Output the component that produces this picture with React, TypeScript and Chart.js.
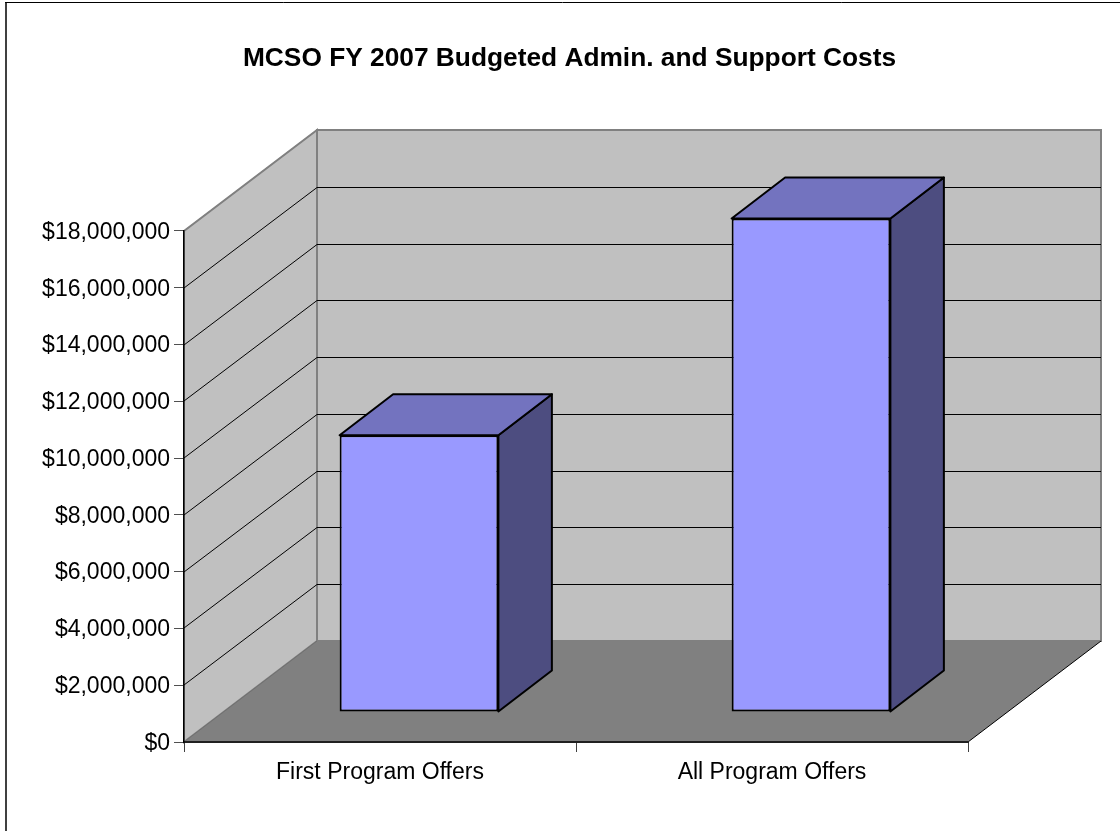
import React, { useEffect, useRef } from "react";
import { Chart, registerables } from "chart.js";

Chart.register(...registerables);

const categories = ["First Program Offers", "All Program Offers"];
const budgetValues = [9750000, 17380000];
const TITLE = "MCSO FY 2007 Budgeted Admin. and Support Costs";
const FONT = "'Liberation Sans', Arial, sans-serif";

// projection of the 3D box
const DEPTH_X = 133;
const DEPTH_Y = 101;
const BAR_OFFSET_X = 39;
const BAR_OFFSET_Y = 30;
const BAR_DEPTH_X = 53.5;
const BAR_DEPTH_Y = 41;

const money = (v: number) => "$" + Number(v).toLocaleString("en-US");

function poly(ctx: CanvasRenderingContext2D, pts: number[][]) {
  ctx.beginPath();
  pts.forEach(([x, y], i) => (i ? ctx.lineTo(x, y) : ctx.moveTo(x, y)));
  ctx.closePath();
}

const box3d = {
  id: "box3d",
  beforeDraw(chart: any) {
    const { ctx, chartArea: a, scales } = chart;
    const y = scales.y;
    const L = a.left, R = a.right, T = a.top, B = a.bottom;
    const dx = DEPTH_X, dy = DEPTH_Y;
    ctx.save();
    // outer frame
    ctx.strokeStyle = "#404040";
    ctx.lineWidth = 2;
    ctx.beginPath(); ctx.moveTo(6, 831); ctx.lineTo(6, 2); ctx.stroke();
    ctx.strokeStyle = "#000000";
    ctx.lineWidth = 1;
    ctx.beginPath(); ctx.moveTo(5, 2.5); ctx.lineTo(1120, 2.5); ctx.stroke();
    // walls
    ctx.fillStyle = "#c0c0c0";
    ctx.strokeStyle = "#808080";
    ctx.lineWidth = 2;
    poly(ctx, [[L + dx, B - dy], [R + dx, B - dy], [R + dx, T - dy], [L + dx, T - dy]]);
    ctx.fill(); ctx.stroke();
    poly(ctx, [[L, B], [L + dx, B - dy], [L + dx, T - dy], [L, T]]);
    ctx.fill(); ctx.stroke();
    // grid lines on the walls
    ctx.strokeStyle = "#000000";
    ctx.lineWidth = 1;
    y.ticks.forEach((t: any) => {
      if (t.value === 0 || t.value === y.max) return;
      const py = Math.round(y.getPixelForValue(t.value));
      ctx.beginPath();
      ctx.moveTo(L, py);
      ctx.lineTo(L + dx, py - dy + 0.5);
      ctx.lineTo(R + dx, py - dy + 0.5);
      ctx.stroke();
    });
    const topTick = y.getPixelForValue(y.max);
    ctx.beginPath();
    ctx.strokeStyle = "#808080";
    ctx.moveTo(L, topTick); ctx.lineTo(L + dx, topTick - dy);
    ctx.stroke();
    // floor
    ctx.fillStyle = "#808080";
    poly(ctx, [[L, B], [L + dx, B - dy], [R + dx, B - dy], [R, B]]);
    ctx.fill();
    ctx.strokeStyle = "#707070";
    ctx.beginPath(); ctx.moveTo(L, B); ctx.lineTo(L + dx, B - dy); ctx.stroke();
    ctx.strokeStyle = "#000000";
    ctx.beginPath(); ctx.moveTo(R, B); ctx.lineTo(R + dx, B - dy); ctx.stroke();
    ctx.restore();
  },
  beforeDatasetsDraw(chart: any) {
    const { ctx } = chart;
    ctx.save();
    ctx.translate(BAR_OFFSET_X, -BAR_OFFSET_Y);
    // side and top faces of every bar
    chart.getDatasetMeta(0).data.forEach((bar: any) => {
      const l = bar.x - bar.width / 2, r = bar.x + bar.width / 2;
      const t = bar.y, b = bar.base;
      const dx = BAR_DEPTH_X, dy = BAR_DEPTH_Y;
      ctx.strokeStyle = "#000000";
      ctx.lineWidth = 2;
      ctx.lineJoin = "round";
      ctx.fillStyle = "#4d4d80";
      poly(ctx, [[r, t], [r + dx, t - dy], [r + dx, b - dy], [r, b]]);
      ctx.fill(); ctx.stroke();
      ctx.fillStyle = "#7373bf";
      poly(ctx, [[l, t], [l + dx, t - dy], [r + dx, t - dy], [r, t]]);
      ctx.fill(); ctx.stroke();
    });
  },
  afterDatasetsDraw(chart: any) {
    chart.ctx.restore();
  },
};

export default function App() {
  const ref = useRef<HTMLCanvasElement>(null);
  useEffect(() => {
    const chart = new Chart(ref.current as HTMLCanvasElement, {
      type: "bar",
      data: {
        labels: categories,
        datasets: [{
          label: "Budgeted costs",
          data: budgetValues,
          backgroundColor: "#9999ff",
          borderColor: "#000000",
          borderWidth: 2,
          borderSkipped: false,
          barPercentage: 0.405,
          categoryPercentage: 1,
          clip: false,
        } as any],
      },
      plugins: [box3d],
      options: {
        responsive: false,
        animation: false,
        layout: { padding: { left: 19, right: 0, top: 0, bottom: 0 } },
        plugins: {
          legend: { display: false },
          tooltip: { enabled: false },
          title: {
            display: true,
            text: TITLE,
            color: "#000000",
            font: { family: FONT, size: 26.3, weight: "bold", lineHeight: 1.2 },
            padding: { top: 43, bottom: 156.4 },
          },
        },
        scales: {
          x: {
            type: "category",
            grid: { drawOnChartArea: false, tickLength: 10, tickColor: "#404040", lineWidth: 1 },
            border: { color: "#202020", width: 2 },
            ticks: { color: "#000000", font: { family: FONT, size: 23 }, padding: 7, maxRotation: 0 },
            afterFit: (s: any) => { s.height = 89; },
          },
          y: {
            type: "linear",
            position: "left",
            min: 0,
            max: 18000000,
            grid: { drawOnChartArea: false, tickLength: 10, tickColor: "#505050", lineWidth: 1 },
            border: { color: "#000000", width: 1.5 },
            ticks: {
              stepSize: 2000000,
              color: "#000000",
              font: { family: FONT, size: 23 },
              padding: 4,
              labelOffset: 1.5,
              callback: (v: any) => money(v),
            },
            afterFit: (s: any) => { s.width = 165; },
          },
          spacer: {
            type: "linear",
            position: "right",
            display: true,
            grid: { display: false },
            border: { display: false },
            ticks: { display: false },
            afterFit: (s: any) => { s.width = 152; },
          },
        },
      } as any,
    });
    return () => chart.destroy();
  }, []);
  return (
    <div style={{ position: "absolute", left: 0, top: 0, width: 1120, height: 831, background: "#ffffff" }}>
      <canvas ref={ref} width={1120} height={831} style={{ display: "block" }} />
    </div>
  );
}
